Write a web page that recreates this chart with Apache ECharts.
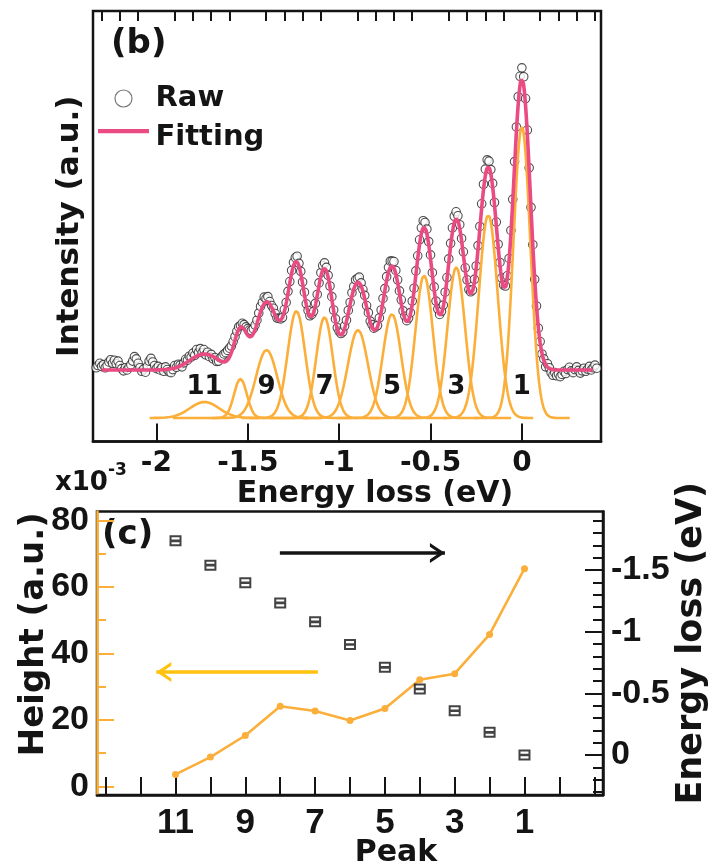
<!DOCTYPE html>
<html>
<head>
<meta charset="utf-8">
<script src="https://cdn.jsdelivr.net/npm/echarts@6/dist/echarts.min.js"></script>
<style>
  html, body { margin: 0; padding: 0; background: #ffffff; }
  #chart { width: 715px; height: 866px; }
</style>
</head>
<body>
<div id="chart"></div>
<script>
// ---- Fitted peak ladder (shared by panels b and c) ----
const peakNumbers = [11, 10, 9, 8, 7, 6, 5, 4, 3, 2, 1];
const peakEnergy  = [-1.737, -1.540, -1.397, -1.234, -1.080, -0.897, -0.711, -0.535, -0.359, -0.184, 0.000]; // eV
const peakHeight  = [3.6, 8.8, 15.3, 24.1, 22.7, 19.8, 23.4, 32.1, 33.9, 45.7, 65.5];                        // x10^-3 a.u.
const peakSigma   = [0.080, 0.035, 0.058, 0.048, 0.045, 0.055, 0.050, 0.048, 0.048, 0.052, 0.046];            // eV
const peakSpan    = [0.30, 0.37, 0.30, 0.30, 0.30, 0.30, 0.30, 0.30, 0.30, 0.246, 0.262];                     // drawn half-window, eV
const componentOffset = 0;     // baseline of the drawn components
const fittingOffset = 10.8;    // background level under the fit
const fittingRange = [-2.30, 0.39];

// ---- Raw spectrum, sampled every 0.01 eV from -2.33 eV ----
const rawEnergyStart = -2.33;
const rawEnergyStep = 0.01;
const rawIntensity = [
  11.3, 11.8, 12.3, 11.6, 12.0, 11.3, 11.8, 12.6, 13.1, 12.3,
  13.0, 12.2, 12.8, 11.8, 11.1, 10.6, 11.3, 10.8, 11.4, 12.0,
  12.8, 13.8, 13.3, 12.3, 11.3, 10.5, 11.0, 10.3, 11.6, 12.8,
  13.4, 12.6, 11.8, 11.1, 11.6, 10.8, 11.3, 10.5,
  11.5, 10.9, 10.4, 10.2, 10.9, 11.8, 11.4, 12.1, 11.9, 11.5,
  12.4, 13.2, 13.0, 13.9, 13.7, 14.6, 14.1, 15.4, 14.7, 15.6,
  14.7, 15.4, 14.2, 14.8, 13.8, 14.3, 13.3, 13.6, 12.7, 12.8,
  13.5, 13.9, 14.4, 14.7, 15.2, 15.7, 16.2, 17.2, 18.3, 19.5,
  20.5, 20.8, 21.3, 21.0, 20.5, 20.1, 19.8, 19.7, 20.1, 20.9,
  22.0, 23.6, 25.1, 26.0, 27.2, 26.9, 27.3, 26.2, 25.3, 24.7,
  23.5, 22.5, 22.4, 22.3, 22.6, 24.4, 26.0, 28.5, 30.7, 33.2,
  35.0, 36.1, 36.4, 34.8, 33.0, 30.6, 28.3, 25.7, 24.2, 23.0,
  23.3, 24.0, 25.8, 27.8, 30.4, 32.7, 34.3, 34.9, 33.9, 32.1,
  29.7, 27.3, 24.3, 22.3, 20.3, 19.5, 19.0, 19.4, 20.7, 22.0,
  24.2, 26.0, 28.2, 29.6, 31.1, 31.4, 31.7, 30.4, 28.9, 27.6,
  25.3, 23.7, 21.8, 21.0, 20.2, 20.5, 20.8, 22.5, 24.3, 26.9,
  29.1, 31.8, 33.9, 35.3, 35.3, 35.2, 33.2, 31.1, 28.6, 26.6,
  24.1, 22.9, 21.9, 22.5, 23.7, 26.3, 29.2, 33.1, 36.5, 40.1,
  42.8, 44.4, 44.0, 42.5, 39.7, 36.7, 32.7, 29.5, 26.3, 24.5,
  23.3, 24.0, 25.4, 28.3, 31.6, 35.8, 39.3, 42.8, 45.4, 46.4,
  45.5, 43.5, 40.4, 37.4, 33.8, 31.1, 28.9, 28.4, 28.8, 31.2,
  34.2, 38.8, 43.1, 48.2, 52.6, 56.0, 58.1, 57.8, 55.9, 52.8,
  48.5, 44.1, 39.1, 35.0, 31.5, 29.9, 29.7, 32.0, 35.9, 42.2,
  49.2, 57.7, 65.5, 72.3, 76.9, 78.8, 76.8, 71.9, 64.8, 56.3,
  47.4, 39.0, 31.2, 25.2, 20.2, 17.2, 14.4, 13.3, 11.5, 12.2,
  11.3, 10.2, 9.6, 10.2, 9.5, 9.9, 9.3, 9.8, 10.5, 10.0,
  10.9, 11.4, 10.6, 10.2, 10.9, 11.5, 10.7, 10.1, 10.6, 11.2,
  10.5, 11.0, 11.6, 10.8, 11.3, 11.9, 11.2
];

// ---- Tick values ----
const energyMajorTicks = [-2, -1.5, -1, -0.5, 0];
const energyMinorTicks = [-2.3, -2.2, -2.1, -1.9, -1.8, -1.7, -1.6, -1.4, -1.3, -1.2, -1.1, -0.9, -0.8, -0.7, -0.6,
                          -0.4, -0.3, -0.2, -0.1, 0.1, 0.2, 0.3, 0.4];
const peakTicks = [-1, 0, 1, 2, 3, 4, 5, 6, 7, 8, 9, 10, 11, 12, 13];
const peakTickLabels = [1, 3, 5, 7, 9, 11];
const heightMajorTicks = [0, 20, 40, 60, 80];
const heightMinorTicks = [10, 30, 50, 70];
const lossMajorTicks = [-1.5, -1, -0.5, 0];
const lossMinorTicks = [-1.9, -1.8, -1.7, -1.6, -1.4, -1.3, -1.2, -1.1, -0.9, -0.8, -0.7, -0.6, -0.4, -0.3, -0.2, -0.1, 0.1, 0.2, 0.3];

// ---- Styling ----
const INK = '#141414';
const ORANGE = '#FBAF3A';
const ARROW_YELLOW = '#FFC20E';
const PINK = '#E94B82';
const FONT = 'DejaVu Sans';
const ARIAL = "'Liberation Sans', Arial, sans-serif";

function gaussian(i, e) {
  const d = e - peakEnergy[i];
  return peakHeight[i] * Math.exp(-d * d / (2 * peakSigma[i] * peakSigma[i]));
}

const STEP = 0.004;
const componentSeries = peakNumbers.map((num, i) => {
  const pts = [];
  const lo = peakEnergy[i] - peakSpan[i], hi = peakEnergy[i] + peakSpan[i];
  for (let e = lo; e <= hi + 1e-9; e += STEP) pts.push([e, componentOffset + gaussian(i, e)]);
  return {
    name: 'Peak ' + num, type: 'line', xAxisIndex: 0, yAxisIndex: 0,
    data: pts, showSymbol: false, symbol: 'none', z: 3,
    lineStyle: { color: ORANGE, width: 2.6 }, itemStyle: { color: ORANGE }, silent: true
  };
});

const fitPts = [];
for (let e = fittingRange[0]; e <= fittingRange[1] + 1e-9; e += STEP) {
  let s = fittingOffset;
  for (let i = 0; i < peakNumbers.length; i++) s += gaussian(i, e);
  fitPts.push([e, s]);
}

const rawPts = rawIntensity.map((v, i) => [+(rawEnergyStart + i * rawEnergyStep).toFixed(2), v]);

const labelLevel = 6.9;
const oddPeakLabels = peakNumbers
  .map((num, i) => ({ value: [peakEnergy[i], labelLevel], num }))
  .filter(d => d.num % 2 === 1)
  .map(d => ({ coord: d.value, value: d.num }));

const boldText = (size, family) => ({ color: INK, fontFamily: family || FONT, fontWeight: 'bold', fontSize: size });

// chevron pointing up; the tiny first sub-path puts the tip at the symbol centre
const arrowHead = 'path://M10,0 L10.01,0 Z M0,28 L10,14 L20,28 L16.4,28 L10,19.2 L3.6,28 Z';
// legend line sits in the upper part of the icon box
const lineIcon = 'path://M0,0 L54,0 L54,4.5 L0,4.5 Z M0,18 L0.01,18 L0,18.01 Z';

const noMove = { nameMoveOverlap: false };

const option = {
  backgroundColor: '#ffffff',
  animation: false,
  grid: [
    { left: 93, top: 11, width: 508, height: 430.5, show: true, borderColor: INK, borderWidth: 2.5,
      containLabel: false, outerBoundsMode: 'none' },
    { left: 97, top: 511.5, width: 506, height: 283.5, show: true, borderColor: INK, borderWidth: 2.5,
      containLabel: false, outerBoundsMode: 'none' }
  ],
  legend: {
    left: 93, top: 79, orient: 'vertical', itemWidth: 54, itemHeight: 17, itemGap: 10,
    textStyle: boldText(29), selectedMode: false,
    data: [
      { name: 'Raw', icon: 'circle', itemStyle: { color: '#ffffff', borderColor: '#555555', borderWidth: 1.2 } },
      { name: 'Fitting', icon: lineIcon, itemStyle: { color: PINK } }
    ]
  },
  xAxis: [
    {
      gridIndex: 0, type: 'value', min: -2.347, max: 0.433, ...noMove,
      axisLine: { show: true, onZero: false, lineStyle: { color: INK, width: 2.5 } },
      axisTick: { show: true, inside: true, length: 18, lineStyle: { color: INK, width: 2 }, customValues: energyMajorTicks },
      axisLabel: { show: true, customValues: energyMajorTicks, margin: 8, ...boldText(28) },
      splitLine: { show: false },
      name: 'Energy loss (eV)', nameLocation: 'middle', nameGap: 38,
      nameTextStyle: { ...boldText(30), padding: [0, 0, 0, 56] }
    },
    {
      gridIndex: 0, type: 'value', min: -2.347, max: 0.433,
      axisLine: { show: false, onZero: false },
      axisTick: { show: true, inside: true, length: 10, lineStyle: { color: INK, width: 2 }, customValues: energyMinorTicks },
      axisLabel: { show: false }, splitLine: { show: false }
    },
    {
      gridIndex: 1, type: 'value', inverse: true, min: -1.25, max: 13.25, ...noMove,
      axisLine: { show: true, onZero: false, lineStyle: { color: INK, width: 2.5 } },
      axisTick: { show: true, inside: true, length: 18, lineStyle: { color: INK, width: 2 }, customValues: peakTicks },
      axisLabel: { show: true, customValues: peakTickLabels, margin: 11, ...boldText(35, ARIAL) },
      splitLine: { show: false },
      name: 'Peak', nameLocation: 'middle', nameGap: 43,
      nameTextStyle: { ...boldText(30), padding: [0, 0, 0, 92] }
    }
  ],
  yAxis: [
    {
      gridIndex: 0, type: 'value', min: -5.3, max: 91.6, ...noMove,
      axisLine: { show: false, onZero: false }, axisTick: { show: false }, axisLabel: { show: false }, splitLine: { show: false },
      name: 'Intensity (a.u.)', nameLocation: 'middle', nameRotate: 90, nameGap: 8, nameTextStyle: boldText(31)
    },
    {
      gridIndex: 1, type: 'value', position: 'left', min: -2.6, max: 82.7, ...noMove,
      axisLine: { show: true, onZero: false, lineStyle: { color: ORANGE, width: 2.5 } },
      axisTick: { show: true, inside: true, length: 17, lineStyle: { color: ORANGE, width: 2 }, customValues: heightMajorTicks },
      axisLabel: { show: true, customValues: heightMajorTicks, margin: 8, ...boldText(34, ARIAL) },
      splitLine: { show: false },
      name: 'Height (a.u.)', nameLocation: 'middle', nameRotate: 90, nameGap: 46,
      nameTextStyle: { ...boldText(34), padding: [0, 0, 0, 38] }
    },
    {
      gridIndex: 1, type: 'value', position: 'left', min: -2.6, max: 82.7,
      axisLine: { show: false, onZero: false },
      axisTick: { show: true, inside: true, length: 9, lineStyle: { color: ORANGE, width: 2 }, customValues: heightMinorTicks },
      axisLabel: { show: false }, splitLine: { show: false }
    },
    {
      gridIndex: 1, type: 'value', position: 'right', inverse: true, min: -1.975, max: 0.324, ...noMove,
      axisLine: { show: true, onZero: false, lineStyle: { color: INK, width: 2.5 } },
      axisTick: { show: true, inside: true, length: 18, lineStyle: { color: INK, width: 2 }, customValues: lossMajorTicks },
      axisLabel: { show: true, customValues: lossMajorTicks, margin: 8, ...boldText(34, ARIAL) },
      splitLine: { show: false },
      name: 'Energy loss (eV)', nameLocation: 'middle', nameRotate: 90, nameGap: 71,
      nameTextStyle: { ...boldText(35), padding: [0, 0, 0, 20] }
    },
    {
      gridIndex: 1, type: 'value', position: 'right', inverse: true, min: -1.975, max: 0.324,
      axisLine: { show: false, onZero: false },
      axisTick: { show: true, inside: true, length: 10, lineStyle: { color: INK, width: 2 }, customValues: lossMinorTicks },
      axisLabel: { show: false }, splitLine: { show: false }
    }
  ],
  series: [
    {
      name: 'Raw', type: 'scatter', xAxisIndex: 0, yAxisIndex: 0, z: 2,
      data: rawPts, symbol: 'circle', symbolSize: 8.5,
      itemStyle: { color: '#ffffff', borderColor: '#222222', borderWidth: 1.1 }
    },
    ...componentSeries,
    {
      name: 'Fitting', type: 'line', xAxisIndex: 0, yAxisIndex: 0, z: 5,
      data: fitPts, showSymbol: false, symbol: 'none',
      lineStyle: { color: PINK, width: 3.6 }, itemStyle: { color: PINK },
      markPoint: {
        silent: true, symbol: 'circle', symbolSize: 0,
        itemStyle: { color: 'transparent' },
        label: { show: true, position: 'inside', formatter: '{c}', ...boldText(26), textBorderWidth: 0 },
        data: oddPeakLabels
      }
    },
    {
      name: 'Height', type: 'line', xAxisIndex: 2, yAxisIndex: 1, z: 5,
      data: peakNumbers.map((p, i) => [p, peakHeight[i]]),
      symbol: 'circle', symbolSize: 7, showSymbol: true,
      lineStyle: { color: ORANGE, width: 2.6 }, itemStyle: { color: ORANGE },
      markLine: {
        silent: true, symbol: ['none', arrowHead], symbolSize: [20, 30],
        lineStyle: { color: ARROW_YELLOW, width: 3.5, type: 'solid' }, label: { show: false },
        data: [[{ coord: [6.92, 34.4] }, { coord: [11.55, 34.4] }]]
      }
    },
    {
      name: 'Energy', type: 'scatter', xAxisIndex: 2, yAxisIndex: 3, z: 5,
      data: peakNumbers.map((p, i) => [p, peakEnergy[i]]),
      symbol: 'path://M0,0 L12,0 L12,11 L0,11 Z M2,2 L2,4.2 L10,4.2 L10,2 Z M2,6.8 L2,9 L10,9 L10,6.8 Z',
      symbolSize: [12, 11],
      itemStyle: { color: INK },
      markLine: {
        silent: true, symbol: ['none', arrowHead], symbolSize: [20, 30],
        lineStyle: { color: INK, width: 3.5, type: 'solid' }, label: { show: false },
        data: [[{ coord: [8.01, -1.638] }, { coord: [3.28, -1.638] }]]
      }
    }
  ],
  graphic: [
    { type: 'text', left: 111, top: 27, style: { text: '(b)', font: 'bold 34px "DejaVu Sans"', fill: INK } },
    { type: 'text', left: 102, top: 518, style: { text: '(c)', font: 'bold 34px "DejaVu Sans"', fill: INK } },
    {
      type: 'text', left: 55, top: 462,
      style: {
        text: '{a|x10}{b|-3}', fill: INK,
        rich: {
          a: { fontFamily: FONT, fontWeight: 'bold', fontSize: 26, verticalAlign: 'bottom', lineHeight: 34 },
          b: { fontFamily: FONT, fontWeight: 'bold', fontSize: 17, verticalAlign: 'top', lineHeight: 34 }
        }
      }
    }
  ]
};

const chart = echarts.init(document.getElementById('chart'), null, { renderer: 'canvas' });
chart.setOption(option);
</script>
</body>
</html>
